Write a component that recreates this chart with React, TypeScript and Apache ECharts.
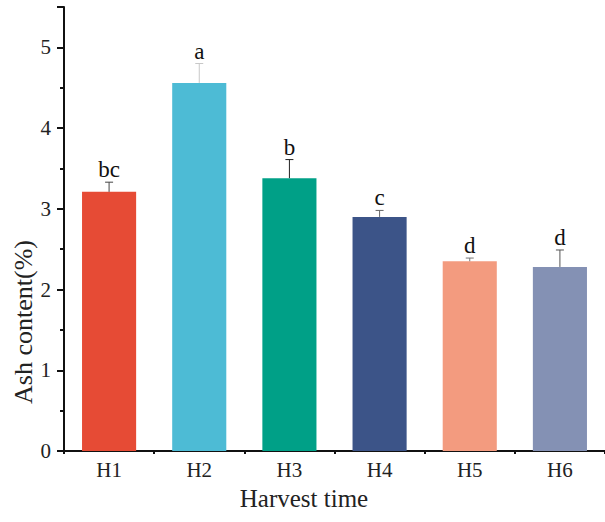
import React, { useEffect, useRef } from "react";
import * as echarts from "echarts";

const categories = ["H1", "H2", "H3", "H4", "H5", "H6"];
const ashValues = [3.21, 4.56, 3.38, 2.9, 2.35, 2.28];
const ashErrors = [0.12, 0.24, 0.23, 0.08, 0.04, 0.21];
const sigLetters = ["bc", "a", "b", "c", "d", "d"];
const yTicks = [0, 1, 2, 3, 4, 5];
const xTitle = "Harvest time";
const yTitle = "Ash content(%)";

const barColors = ["#E64B35", "#4DBBD5", "#00A087", "#3C5488", "#F39B7F", "#8491B4"];
const errColors = ["#444444", "#c8c8c8", "#222222", "#666666", "#777777", "#555555"];
const FONT = "'Liberation Serif', 'Times New Roman', serif";

export default function App() {
  const ref = useRef<HTMLDivElement>(null);
  useEffect(() => {
    if (!ref.current) return;
    const chart = echarts.init(ref.current, undefined, { renderer: "svg" });
    const errData = categories.map((c, i) => [i, ashValues[i], ashErrors[i]]);
    chart.setOption({
      animation: false,
      backgroundColor: "#ffffff",
      grid: { left: 64, top: 7, bottom: 71, right: -7, containLabel: false },
      graphic: [
        {
          type: "text",
          x: 23,
          y: 322,
          rotation: Math.PI / 2,
          style: {
            text: yTitle,
            fontFamily: FONT,
            fontSize: 26,
            fill: "#222",
            align: "center",
            verticalAlign: "middle",
          },
        },
        {
          type: "text",
          x: 304,
          y: 498,
          style: {
            text: xTitle,
            fontFamily: FONT,
            fontSize: 25,
            fill: "#222",
            align: "center",
            verticalAlign: "middle",
          },
        },
      ],
      xAxis: [
        {
          type: "category",
          data: categories,
          boundaryGap: true,
          axisLine: { lineStyle: { color: "#111", width: 2 } },
          axisTick: { alignWithLabel: true, length: 6, lineStyle: { color: "#111", width: 2 } },
          axisLabel: { fontFamily: FONT, fontSize: 21, color: "#222", margin: 8 },
        },
        {
          type: "category",
          data: categories,
          boundaryGap: true,
          position: "bottom",
          axisLine: { show: false },
          axisTick: { show: true, length: 3, lineStyle: { color: "#111", width: 2 } },
          axisLabel: { show: false },
        },
      ],
      yAxis: {
        type: "value",
        min: 0,
        max: 5.5,
        interval: 1,
        axisLine: { show: true, lineStyle: { color: "#111", width: 2 } },
        axisTick: { show: true, length: 7, lineStyle: { color: "#111", width: 2 } },
        minorTick: { show: true, splitNumber: 2, length: 4, lineStyle: { color: "#111", width: 2 } },
        splitLine: { show: false },
        axisLabel: {
          fontFamily: FONT,
          fontSize: 21,
          color: "#222",
          margin: 13,
          formatter: (v: number) => (yTicks.includes(v) ? String(v) : ""),
        },
      },
      series: [
        {
          type: "bar",
          data: ashValues.map((v, i) => ({ value: v, itemStyle: { color: barColors[i] } })),
          barWidth: "60%",
          xAxisIndex: 0,
        },
        {
          type: "custom",
          xAxisIndex: 0,
          data: errData,
          z: 10,
          renderItem: (params: any, api: any) => {
            const i = api.value(0);
            const v = api.value(1);
            const e = api.value(2);
            const base = api.coord([i, v]);
            const top = api.coord([i, v + e]);
            const col = errColors[params.dataIndex];
            const half = 4;
            return {
              type: "group",
              children: [
                {
                  type: "line",
                  shape: { x1: base[0], y1: base[1], x2: top[0], y2: top[1] },
                  style: { stroke: col, lineWidth: 1 },
                },
                {
                  type: "line",
                  shape: { x1: top[0] - half, y1: top[1], x2: top[0] + half, y2: top[1] },
                  style: { stroke: col, lineWidth: 1 },
                },
                {
                  type: "text",
                  x: top[0],
                  y: top[1] - 1,
                  style: {
                    text: sigLetters[params.dataIndex],
                    fontFamily: FONT,
                    fontSize: 23,
                    fill: "#111",
                    align: "center",
                    verticalAlign: "bottom",
                  },
                },
              ],
            };
          },
        },
      ],
    });
    return () => chart.dispose();
  }, []);
  return (
    <div
      ref={ref}
      style={{ position: "fixed", left: 0, top: 0, width: 605, height: 522, background: "#fff" }}
    />
  );
}
